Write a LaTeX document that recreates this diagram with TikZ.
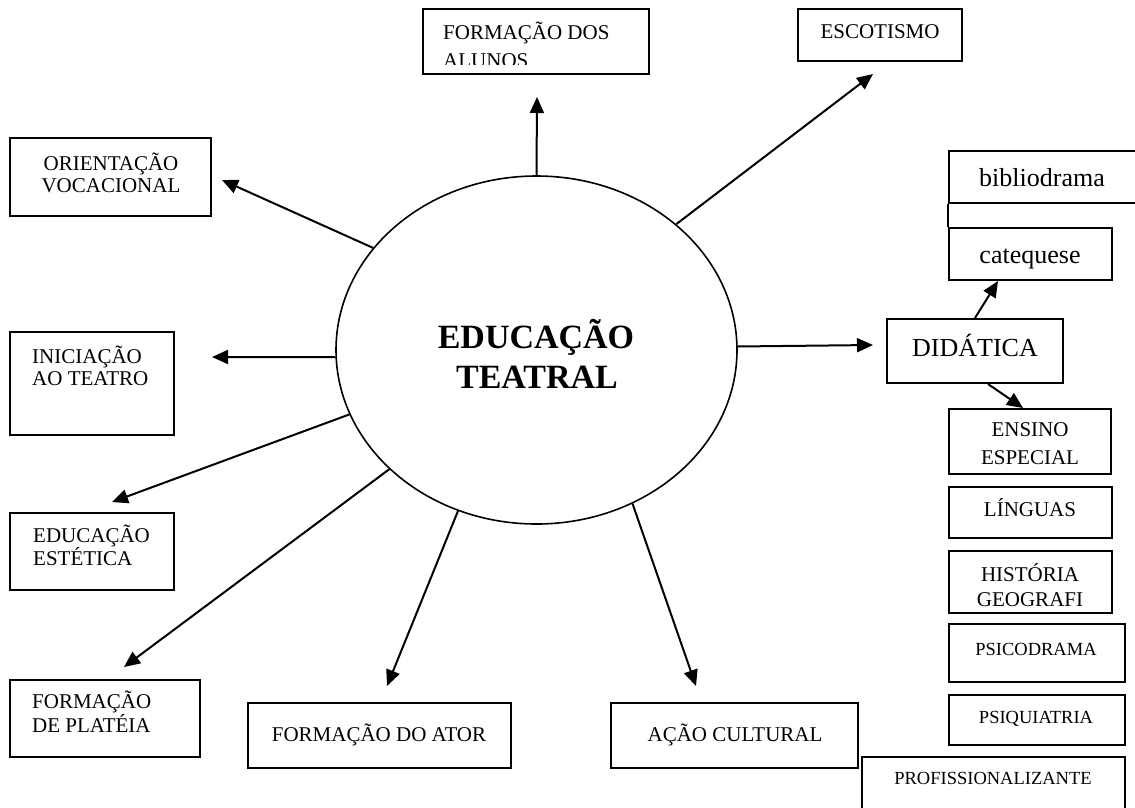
\documentclass[tikz,border=0pt]{standalone}
\usepackage{fontspec}
\setmainfont{Liberation Serif}
\usetikzlibrary{arrows.meta,shapes.geometric,fit}
\begin{document}
\begin{tikzpicture}[x=1pt,y=-1pt,
  box/.style={draw,line width=2pt,inner sep=0pt,fit={#1}},
  txt/.style={inner sep=0pt,anchor=base,font=\fontsize{21}{23}\selectfont},
  txtl/.style={txt,anchor=base west},
  smalltxt/.style={txt,font=\fontsize{18.5}{21}\selectfont},
  bigtxt/.style={txt,font=\fontsize{26}{30}\selectfont},
  conn/.style={line width=2pt,-{Triangle[length=16pt,width=14pt]}}]
\useasboundingbox (0,0) rectangle (1135,807);
\fill[white] (0,0) rectangle (1135,807);

% central ellipse
\node[draw,ellipse,line width=1.6pt,minimum width=401pt,minimum height=348pt,inner sep=0pt] (E) at (536.5,350) {};
\node[txt,font=\fontsize{34}{40}\selectfont\bfseries] (t1) at (536,348) {EDUCAÇÃO};
\node[txt,font=\fontsize{34}{40}\selectfont\bfseries] (t2) at (537,388) {TEATRAL};

% top boxes
\node[box={(423,9) (649,74)}] (alu) {};
\node[txtl] (alu1) at (443,39) {FORMAÇÃO DOS};
\begin{scope}
  \clip (423,9) rectangle (649,64);
  \node[txtl] (alu2) at (443,67) {ALUNOS};
\end{scope}
\node[box={(798,9) (962,61)}] (esc) {};
\node[txt] (esc1) at (880,38) {ESCOTISMO};

% left boxes
\node[box={(10,138) (211,216)}] (ori) {};
\node[txt] (ori1) at (111,170) {ORIENTAÇÃO};
\node[txt] (ori2) at (111,192) {VOCACIONAL};
\node[box={(10,332) (174,435)}] (ini) {};
\node[txtl] (ini1) at (32,363) {INICIAÇÃO};
\node[txtl] (ini2) at (32,385) {AO TEATRO};
\node[box={(10,513) (174,590)}] (est) {};
\node[txtl] (est1) at (33,542) {EDUCAÇÃO};
\node[txtl] (est2) at (33,565) {ESTÉTICA};
\node[box={(10,680) (200,757)}] (pla) {};
\node[txtl] (pla1) at (32,708) {FORMAÇÃO};
\node[txtl] (pla2) at (32,732) {DE PLATÉIA};

% bottom boxes
\node[box={(248,703) (511,768)}] (ato) {};
\node[txt] (ato1) at (379,741) {FORMAÇÃO DO ATOR};
\node[box={(611,703) (858,768)}] (aca) {};
\node[txt] (aca1) at (735,741) {AÇÃO CULTURAL};

% right side
\node[box={(949,151) (1150,203)}] (bib) {};
\node[bigtxt,anchor=base west] (bib1) at (979,186) {bibliodrama};
\node[box={(949,228) (1112,280)}] (cat) {};
\node[bigtxt] (cat1) at (1030,263) {catequese};
\draw[line width=2pt] (bib.south west) -- (cat.north west);
\node[box={(887,319) (1063,383)}] (did) {};
\node[bigtxt] (did1) at (975,356) {DIDÁTICA};
\node[box={(949,409) (1111,474)}] (ens) {};
\node[txt] (ens1) at (1030,436) {ENSINO};
\node[txt] (ens2) at (1030,464) {ESPECIAL};
\node[box={(949,487) (1112,538)}] (lin) {};
\node[txt] (lin1) at (1030,516) {LÍNGUAS};
\node[box={(949,551) (1112,613)}] (his) {};
\node[txt] (his1) at (1030,581) {HISTÓRIA};
\node[txt] (his2) at (1030,606) {GEOGRAFI};
\node[box={(949,624) (1125,682)}] (psc) {};
\node[smalltxt] (psc1) at (1036,655) {PSICODRAMA};
\node[box={(949,695) (1125,745)}] (psq) {};
\node[smalltxt] (psq1) at (1036,723) {PSIQUIATRIA};
\node[box={(862,757) (1125,830)}] (pro) {};
\node[smalltxt] (pro1) at (993,784) {PROFISSIONALIZANTE};

% arrow end points
\coordinate (pAlu) at (537,97);
\coordinate (pEsc) at (873,74);
\coordinate (pOri) at (222,180);
\coordinate (pIni) at (212,357);
\coordinate (pDid) at (873,345);
\coordinate (pEst) at (112,502);
\coordinate (pPla) at (124,667);
\coordinate (pAto) at (387,686);
\coordinate (pAca) at (696,686);
\coordinate (pCat) at (998,281);
\coordinate (pEns) at (1023,408);

% connectors
\draw[conn] (E.90) -- (pAlu);
\draw[conn] (E.42) -- (pEsc);
\draw[conn] (E.148) -- (pOri);
\draw[conn] (E.182) -- (pIni);
\draw[conn] (E.1.4) -- (pDid);
\draw[conn] (E.199) -- (pEst);
\draw[conn] (E.219) -- (pPla);
\draw[conn] (E.244) -- (pAto);
\draw[conn] (E.302) -- (pAca);
\draw[conn] (did.north) -- (pCat);
\draw[conn] ([xshift=13pt]did.south) -- (pEns);
\end{tikzpicture}
\end{document}
